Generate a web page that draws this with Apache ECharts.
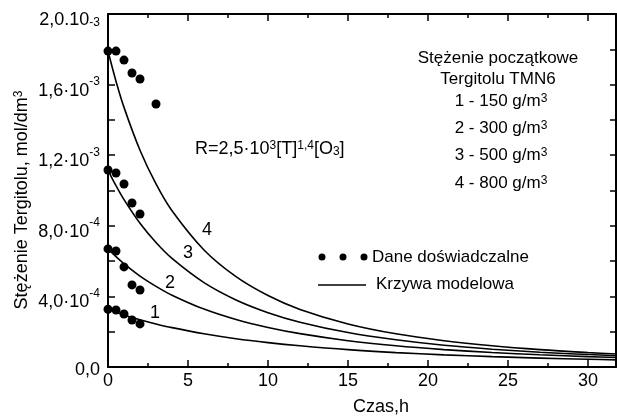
<!DOCTYPE html>
<html>
<head>
<meta charset="utf-8">
<script src="https://cdn.jsdelivr.net/npm/echarts@6/dist/echarts.min.js"></script>
<style>
html,body{margin:0;padding:0;background:#fff;}
#c{width:617px;height:418px;}
</style>
</head>
<body>
<div id="c"></div>
<script>
// ---- data (concentration in units of 1e-3 mol/dm3, time in h) ----
const dotTime = [0, 0.5, 1, 1.5, 2];
const dotTime4 = [0, 0.5, 1, 1.5, 2, 3];
const dots1 = [0.327, 0.323, 0.300, 0.266, 0.244];
const dots2 = [0.669, 0.657, 0.567, 0.465, 0.436];
const dots3 = [1.116, 1.099, 1.037, 0.929, 0.867];
const dots4 = [1.790, 1.790, 1.739, 1.666, 1.632, 1.490];

const curveTime = [0, 0.5, 1, 2, 3, 4, 6, 8, 10, 12, 15, 18, 21, 24, 27, 30, 32];
const curve1 = [0.327, 0.310, 0.295, 0.268, 0.244, 0.223, 0.188, 0.160, 0.138, 0.120, 0.0982, 0.0817, 0.0689, 0.0587, 0.0505, 0.0438, 0.0400];
const curve2 = [0.669, 0.625, 0.585, 0.515, 0.457, 0.407, 0.328, 0.269, 0.224, 0.189, 0.149, 0.120, 0.0986, 0.0820, 0.0691, 0.0588, 0.0532];
const curve3 = [1.116, 1.027, 0.948, 0.814, 0.705, 0.615, 0.478, 0.380, 0.308, 0.254, 0.195, 0.154, 0.123, 0.101, 0.0839, 0.0706, 0.0633];
const curve4 = [1.790, 1.619, 1.471, 1.228, 1.037, 0.885, 0.663, 0.512, 0.405, 0.326, 0.244, 0.188, 0.149, 0.120, 0.0982, 0.0817, 0.0728];

const yTickLabels = ['0,0', '{h|\u200b}{m|4,0·10}{s|-4}', '{h|\u200b}{m|8,0·10}{s|-4}', '{h|\u200b}{m|1,2·10}{s|-3}', '{h|\u200b}{m|1,6·10}{s|-3}', '{h|\u200b}{m|2,0.10}{d|-3}'];
const xTickLabels = ['0', '5', '10', '15', '20', '25', '30'];

const FONT = "'Liberation Sans', Arial, sans-serif";
const pair = (xs, ys) => ys.map((v, i) => [xs[i], v]);

const chart = echarts.init(document.getElementById('c'));

const dotSeries = (d) => ({type: 'scatter', data: d, symbol: 'circle', symbolSize: 9,
  itemStyle: {color: '#000', opacity: 1}, silent: true, z: 3});
const lineSeries = (d) => ({type: 'line', data: d, smooth: 0.35, showSymbol: false,
  lineStyle: {color: '#000', width: 1.6}, silent: true, z: 2});

const axisLineStyle = () => ({show: true, onZero: false, lineStyle: {color: '#000', width: 2}});
const tickStyle = (len) => ({show: true, inside: true, length: len, lineStyle: {color: '#000', width: 1.5}});
const minorStyle = (len) => ({show: true, splitNumber: 2, length: len, lineStyle: {color: '#000', width: 1.5}});

const option = {
  backgroundColor: '#fff',
  animation: false,
  grid: {left: 108, top: 14, width: 508, height: 353},
  xAxis: [{
    type: 'value', min: 0, max: 31.75, interval: 5,
    axisLine: axisLineStyle(), axisTick: tickStyle(7), minorTick: minorStyle(4),
    splitLine: {show: false},
    axisLabel: {color: '#000', fontFamily: FONT, fontSize: 18, margin: 5, showMaxLabel: false,
      formatter: (v) => (Math.abs(v / 5 - Math.round(v / 5)) < 1e-6 ? (xTickLabels[Math.round(v / 5)] || '') : '')}
  }, {
    type: 'value', position: 'top', min: 0, max: 31.75, interval: 5,
    axisLine: axisLineStyle(), axisTick: tickStyle(7), minorTick: minorStyle(4),
    splitLine: {show: false}, axisLabel: {show: false}
  }],
  yAxis: [{
    type: 'value', min: 0, max: 2.0, interval: 0.4,
    axisLine: axisLineStyle(), axisTick: tickStyle(7), minorTick: minorStyle(7),
    splitLine: {show: false},
    axisLabel: {color: '#000', fontFamily: FONT, fontSize: 18, margin: 8, padding: [6, 0, 0, 0],
      formatter: (v) => yTickLabels[Math.round(v / 0.4)] || '',
      rich: {
        h: {fontFamily: FONT, fontSize: 2, lineHeight: 24, color: '#000'},
        m: {fontFamily: FONT, fontSize: 18, color: '#000', lineHeight: 18, verticalAlign: 'bottom'},
        s: {fontFamily: FONT, fontSize: 12, color: '#000', lineHeight: 12, verticalAlign: 'top'},
        d: {fontFamily: FONT, fontSize: 12, color: '#000', lineHeight: 12, verticalAlign: 'bottom'}
      }}
  }, {
    type: 'value', position: 'right', min: 0, max: 2.0, interval: 0.4,
    axisLine: axisLineStyle(), axisTick: tickStyle(6), minorTick: minorStyle(6),
    splitLine: {show: false}, axisLabel: {show: false}
  }],
  series: [
    lineSeries(pair(curveTime, curve1)),
    lineSeries(pair(curveTime, curve2)),
    lineSeries(pair(curveTime, curve3)),
    lineSeries(pair(curveTime, curve4)),
    dotSeries(pair(dotTime, dots1)),
    dotSeries(pair(dotTime, dots2)),
    dotSeries(pair(dotTime, dots3)),
    dotSeries(pair(dotTime4, dots4))
  ],
  graphic: [
    // axis titles
    {type: 'text', x: 22, y: 200, rotation: Math.PI / 2,
      style: {text: 'Stężenie Tergitolu, mol/dm{s|3}', fill: '#000', font: '18px ' + FONT,
        align: 'center', verticalAlign: 'middle',
        rich: {s: {fontSize: 12, fontFamily: FONT, verticalAlign: 'top', lineHeight: 12}}}},
    {type: 'text', x: 381, y: 407,
      style: {text: 'Czas,h', fill: '#000', font: '18px ' + FONT, align: 'center', verticalAlign: 'middle'}},
    // initial concentration annotation
    {type: 'text', x: 498, y: 58,
      style: {text: 'Stężenie początkowe', fill: '#000', font: '17px ' + FONT, align: 'center', verticalAlign: 'middle'}},
    {type: 'text', x: 498, y: 79,
      style: {text: 'Tergitolu TMN6', fill: '#000', font: '17px ' + FONT, align: 'center', verticalAlign: 'middle'}},
    {type: 'text', x: 501, y: 101,
      style: {text: '1 - 150 g/m{s|3}', fill: '#000', font: '17px ' + FONT, align: 'center', verticalAlign: 'middle',
        rich: {s: {fontSize: 12, fontFamily: FONT, verticalAlign: 'top', lineHeight: 12}}}},
    {type: 'text', x: 501, y: 128,
      style: {text: '2 - 300 g/m{s|3}', fill: '#000', font: '17px ' + FONT, align: 'center', verticalAlign: 'middle',
        rich: {s: {fontSize: 12, fontFamily: FONT, verticalAlign: 'top', lineHeight: 12}}}},
    {type: 'text', x: 501, y: 155,
      style: {text: '3 - 500 g/m{s|3}', fill: '#000', font: '17px ' + FONT, align: 'center', verticalAlign: 'middle',
        rich: {s: {fontSize: 12, fontFamily: FONT, verticalAlign: 'top', lineHeight: 12}}}},
    {type: 'text', x: 501, y: 183,
      style: {text: '4 - 800 g/m{s|3}', fill: '#000', font: '17px ' + FONT, align: 'center', verticalAlign: 'middle',
        rich: {s: {fontSize: 12, fontFamily: FONT, verticalAlign: 'top', lineHeight: 12}}}},
    // rate equation
    {type: 'text', x: 195, y: 149,
      style: {text: 'R=2,5·10{s|3}[T]{s|1,4}[O{b|3}]', fill: '#000', font: '18px ' + FONT, align: 'left', verticalAlign: 'middle',
        rich: {s: {fontSize: 12, fontFamily: FONT, verticalAlign: 'top', lineHeight: 12},
               b: {fontSize: 12, fontFamily: FONT, verticalAlign: 'bottom', lineHeight: 12}}}},
    // curve numbers
    {type: 'text', x: 207, y: 230, style: {text: '4', fill: '#000', font: '18px ' + FONT, align: 'center', verticalAlign: 'middle'}},
    {type: 'text', x: 188, y: 253, style: {text: '3', fill: '#000', font: '18px ' + FONT, align: 'center', verticalAlign: 'middle'}},
    {type: 'text', x: 170, y: 283, style: {text: '2', fill: '#000', font: '18px ' + FONT, align: 'center', verticalAlign: 'middle'}},
    {type: 'text', x: 155, y: 313, style: {text: '1', fill: '#000', font: '18px ' + FONT, align: 'center', verticalAlign: 'middle'}},
    // legend
    {type: 'circle', shape: {cx: 322, cy: 257, r: 3.5}, style: {fill: '#000'}},
    {type: 'circle', shape: {cx: 343, cy: 257, r: 3.5}, style: {fill: '#000'}},
    {type: 'circle', shape: {cx: 364, cy: 257, r: 3.5}, style: {fill: '#000'}},
    {type: 'text', x: 372, y: 257,
      style: {text: 'Dane doświadczalne', fill: '#000', font: '17px ' + FONT, align: 'left', verticalAlign: 'middle'}},
    {type: 'line', shape: {x1: 318, y1: 285, x2: 366, y2: 285}, style: {stroke: '#000', lineWidth: 1.5}},
    {type: 'text', x: 376, y: 284,
      style: {text: 'Krzywa modelowa', fill: '#000', font: '17px ' + FONT, align: 'left', verticalAlign: 'middle'}}
  ]
};
chart.setOption(option);
</script>
</body>
</html>
